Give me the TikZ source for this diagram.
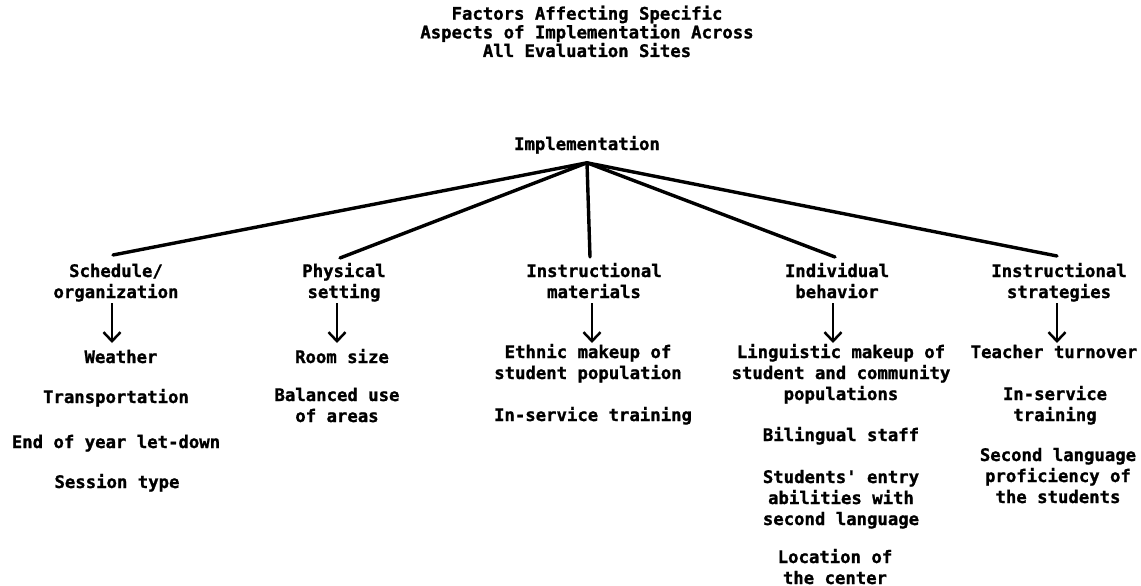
\documentclass[tikz,border=0pt]{standalone}
\usepackage{fontspec}
\setmonofont{DejaVu Sans Mono}[BoldFeatures={FakeBold=1.2}]
\usetikzlibrary{arrows.meta}
\begin{document}
\begin{tikzpicture}[x=1pt,y=-1pt,
  txt/.style={font=\ttfamily\bfseries\fontsize{17.3}{21}\selectfont, align=center, anchor=base, inner sep=0pt},
  ttl/.style={font=\ttfamily\bfseries\fontsize{17.3}{14.5}\selectfont, align=center, anchor=base, inner sep=0pt},
  branch/.style={line width=3.4pt, line cap=round},
  arr/.style={line width=2.5pt, -{Straight Barb[length=9pt,width=17pt,line width=2.5pt]}}
]
\useasboundingbox (0,0) rectangle (1141,586);
\fill[white] (0,0) rectangle (1141,586);

% title (base = last line)
\node[ttl] (title) at (587,57) {Factors Affecting Specific\\Aspects of Implementation Across\\All Evaluation Sites};

% root
\node[txt] (impl) at (587,150) {Implementation};
\coordinate (apex) at ([yshift=-9pt]impl.south);

% headings (base = second line)
\node[txt] (sched) at (116,298) {Schedule/\\organization};
\node[txt] (phys)  at (344,298) {Physical\\setting};
\node[txt] (mat)   at (594,298) {Instructional\\materials};
\node[txt] (indiv) at (837,298) {Individual\\behavior};
\node[txt] (strat) at (1059,298) {Instructional\\strategies};

% connectors from root
\draw[branch] (apex) -- ([xshift=-3pt,yshift=43pt]sched.base);
\draw[branch] (apex) -- ([xshift=-4pt,yshift=40pt]phys.base);
\draw[branch] (apex) -- ([xshift=-4pt,yshift=41pt]mat.base);
\draw[branch] (apex) -- ([xshift=-2pt,yshift=41pt]indiv.base);
\draw[branch] (apex) -- ([xshift=-2pt,yshift=42pt]strat.base);

% schedule/organization items
\node[txt] (weather) at (121,363) {Weather};
\node[txt] (transp)  at (116,403) {Transportation};
\node[txt] (endyear) at (116,448) {End of year let-down};
\node[txt] (session) at (117,488) {Session type};

% physical setting items
\node[txt] (room) at (342,363) {Room size};
\node[txt] (balanced) at (337,422) {Balanced use\\of areas};

% instructional materials items
\node[txt] (ethnic) at (588,379) {Ethnic makeup of\\student population};
\node[txt] (inserv1) at (593,421) {In-service training};

% individual behavior items
\node[txt] (ling) at (841,400) {Linguistic makeup of\\student and community\\populations};
\node[txt] (biling) at (841,441) {Bilingual staff};
\node[txt] (entry) at (841,525) {Students' entry\\abilities with\\second language};
\node[txt] (location) at (835,584) {Location of\\the center};

% instructional strategies items
\node[txt] (teacher) at (1054,358) {Teacher turnover};
\node[txt] (inserv2) at (1055,421) {In-service\\training};
\node[txt] (second) at (1058,503) {Second language\\proficiency of\\the students};

% arrows
\draw[arr] ([xshift=-4pt,yshift=-5pt]sched.base) -- ([xshift=-9pt,yshift=20pt]weather.base);
\draw[arr] ([xshift=-7pt,yshift=-5pt]phys.base) -- ([xshift=-5pt,yshift=20pt]room.base);
\draw[arr] ([xshift=-2pt,yshift=-5pt]mat.base) -- ([xshift=4pt,yshift=36pt]ethnic.base);
\draw[arr] ([xshift=-4pt,yshift=-5pt]indiv.base) -- ([xshift=-8pt,yshift=57pt]ling.base);
\draw[arr] ([xshift=-2pt,yshift=-5pt]strat.base) -- ([xshift=3pt,yshift=15pt]teacher.base);
\end{tikzpicture}
\end{document}
